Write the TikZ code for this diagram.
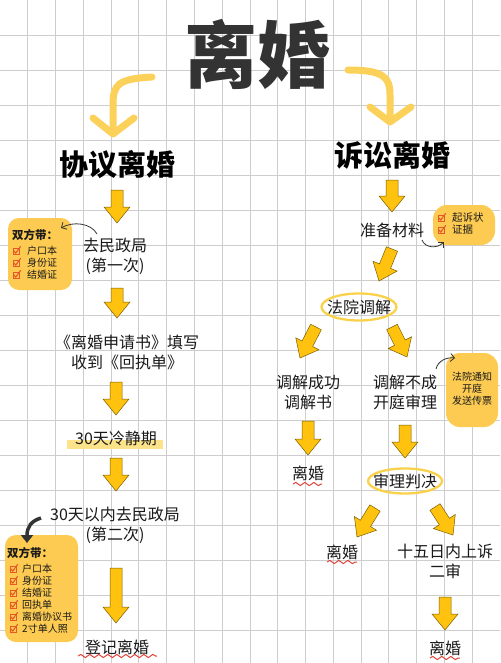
\documentclass[tikz,border=0pt]{standalone}
\usepackage{fontspec}
\setmainfont{Noto Sans CJK SC}
\newfontfamily\blackfont{Noto Sans CJK SC Black}
\usetikzlibrary{calc,arrows.meta,decorations.pathmorphing}
\definecolor{gridc}{HTML}{CDCDCD}
\definecolor{ttlc}{HTML}{333333}
\definecolor{cyc}{HTML}{FCD15A}
\definecolor{afill}{HTML}{FFC20E}
\definecolor{aline}{HTML}{7A5E00}
\definecolor{boxc}{HTML}{FDCB52}
\definecolor{chkc}{HTML}{E8572A}
\definecolor{wavc}{HTML}{E0433A}
\definecolor{hlc}{HTML}{FCE38A}
\definecolor{ovc}{HTML}{F9D24A}
\definecolor{txtc}{HTML}{1A1A1A}
\newcommand{\barrow}[2]{%
  \coordinate (#1h) at ($(#2)!16pt!(#1)$);
  \draw[blockarrow] ($(#1)!6pt!90:(#2)$) -- ($(#1h)!6pt!90:(#2)$) -- ($(#1h)!13pt!90:(#2)$) -- (#2) -- ($(#1h)!13pt!-90:(#2)$) -- ($(#1h)!6pt!-90:(#2)$) -- ($(#1)!6pt!-90:(#2)$) -- cycle;}
\tikzset{
  gridline/.style={draw=gridc, line width=0.9pt},
  blockarrow/.style={fill=afill, draw=aline, line width=0.5pt, line join=miter},
  body/.style={font=\fontsize{16}{20}\selectfont, text=txtc, align=center, inner sep=0pt},
  headtxt/.style={font=\fontsize{29}{29}\selectfont\bfseries, text=black, inner sep=0pt},
  ttltxt/.style={font=\fontsize{73}{73}\selectfont\blackfont, text=ttlc, inner sep=0pt},
  ybox/.style={fill=boxc, draw=none, rounded corners=11pt, inner sep=0pt},
  boxtxt/.style={font=\fontsize{10}{12}\selectfont, text=txtc, inner sep=0pt, anchor=west},
  boxhead/.style={font=\fontsize{11.5}{12}\selectfont\bfseries, text=txtc, inner sep=0pt, anchor=west},
  curvy/.style={draw=cyc, line width=7pt, line cap=round, line join=round},
  thinarrow/.style={draw=ttlc, line width=0.8pt, -{Straight Barb[length=4pt,width=8pt]}},
  wavy/.style={draw=wavc, line width=1pt, decorate, decoration={snake, amplitude=1.6pt, segment length=9pt}},
  oval/.style={draw=ovc, line width=2.3pt},
  chk/.pic={\draw[chkc, line width=0.6pt] (-3.2,-3.2) rectangle (3.2,3.2);
            \draw[chkc, line width=1.1pt, line cap=round, line join=round] (-2,0) -- (-0.3,2.2) -- (4.5,-4.5);}
}
\begin{document}
\begin{tikzpicture}[x=1pt,y=-1pt]
\useasboundingbox (0,0) rectangle (500,663);
\fill[white] (0,0) rectangle (500,663);
% grid
\foreach \i in {1,...,17} \draw[gridline] (27.78*\i,0) -- (27.78*\i,663);
\foreach \j in {1,...,18} \draw[gridline] (0,35*\j) -- (500,35*\j);

% title
\node[ttltxt] (title) at (257,54) {离婚};
% curvy arrows
\draw[curvy] (152,77) .. controls (118,79) and (113,84) .. (113,105) -- (113,132);
\draw[curvy] (93,118) -- (113,134) -- (134,118);
\draw[curvy] (348,70) .. controls (385,70) and (390,78) .. (390,95) -- (390,120);
\draw[curvy] (370,107) -- (390,122) -- (411,107);

\node[headtxt] (xy) at (117,165) {协议离婚};
\node[headtxt] (ss) at (392,155) {诉讼离婚};

% left column
\node[body] (l1) at (115,256) {去民政局\\(第一次)};
\node[body] (l2) at (127,352) {《离婚申请书》填写\\收到《回执单》};
\fill[hlc] (67,440) rectangle (163,449);
\node[body] (l3) at (116,438) {30天冷静期};
\node[body] (l4) at (115,525) {30天以内去民政局\\(第二次)};
\node[body] (l5) at (117,647) {登记离婚};
\coordinate (w1a) at (78,656); \coordinate (w1b) at (157,656);
\draw[wavy] (w1a) -- (w1b);

\coordinate (a1s) at (117,190); \coordinate (a1e) at (117,223);
\coordinate (a2s) at (117,288); \coordinate (a2e) at (117,318);
\coordinate (a3s) at (116,382); \coordinate (a3e) at (116,415);
\coordinate (a4s) at (116,458); \coordinate (a4e) at (116,491);
\coordinate (a5s) at (116,568); \coordinate (a5e) at (116,623);
\barrow{a1s}{a1e}
\barrow{a2s}{a2e}
\barrow{a3s}{a3e}
\barrow{a4s}{a4e}
\barrow{a5s}{a5e}

% box 1
\node[ybox, minimum width=64pt, minimum height=72pt] (b1) at (40,254) {};
\node[boxhead] (b1h) at (12,235) {双方带：};
\pic at (16,251) {chk}; \node[boxtxt] (b1i1) at (27,251) {户口本};
\pic at (16,263) {chk}; \node[boxtxt] (b1i2) at (27,263) {身份证};
\pic at (16,275) {chk}; \node[boxtxt] (b1i3) at (27,275) {结婚证};
\coordinate (c1s) at (97,234); \coordinate (c1e) at (61,228);
\draw[thinarrow] (c1s) .. controls (91,223) and (73,221) .. (c1e);

% box 2
\node[ybox, minimum width=73pt, minimum height=107pt] (b2) at (41.5,588.5) {};
\node[boxhead] (b2h) at (7,553) {双方带：};
\pic at (13,569) {chk}; \node[boxtxt] (b2i1) at (22,569) {户口本};
\pic at (13,581) {chk}; \node[boxtxt] (b2i2) at (22,581) {身份证};
\pic at (13,593) {chk}; \node[boxtxt] (b2i3) at (22,593) {结婚证};
\pic at (13,605) {chk}; \node[boxtxt] (b2i4) at (22,605) {回执单};
\pic at (13,617) {chk}; \node[boxtxt] (b2i5) at (22,617) {离婚协议书};
\pic at (13,629) {chk}; \node[boxtxt] (b2i6) at (22,629) {2寸单人照};
\coordinate (c2s) at (41,518); \coordinate (c2e) at (27,543);
\draw[draw=ttlc, line width=3.5pt, -{Triangle[length=8pt,width=12pt]}] (c2s) .. controls (31,521) and (27,527) .. (c2e);

% right column
\node[body] (r1) at (392,230) {准备材料};
\node[body] (r2) at (359,307) {法院调解};
\draw[oval] (r2.center) ellipse [x radius=37.5, y radius=13.5];
\node[body] (r3) at (308,392) {调解成功\\调解书};
\node[body] (r4) at (405,392) {调解不成\\开庭审理};
\node[body] (r5) at (308,473) {离婚};
\node[body] (r6) at (405,481) {审理判决};
\draw[oval] (r6.center) ellipse [x radius=37, y radius=12.5];
\node[body] (r7) at (342,552) {离婚};
\node[body] (r8) at (445,561) {十五日内上诉\\二审};
\node[body] (r9) at (445,648) {离婚};
\coordinate (w2a) at (293,484); \coordinate (w2b) at (322,484);
\coordinate (w3a) at (327,562); \coordinate (w3b) at (357,562);
\coordinate (w4a) at (430,658); \coordinate (w4b) at (460,658);
\draw[wavy] (w2a) -- (w2b);
\draw[wavy] (w3a) -- (w3b);
\draw[wavy] (w4a) -- (w4b);

\coordinate (b1s) at (392,180); \coordinate (b1e) at (392,212);
\coordinate (b2s) at (392,249); \coordinate (b2e) at (379,281);
\coordinate (b3s) at (316,327); \coordinate (b3e) at (300,358);
\coordinate (b4s) at (392,327); \coordinate (b4e) at (407,357);
\coordinate (b5s) at (308,421); \coordinate (b5e) at (308,455);
\coordinate (b6s) at (405,425); \coordinate (b6e) at (405,458);
\coordinate (b7s) at (375,508); \coordinate (b7e) at (357,537);
\coordinate (b8s) at (435,507); \coordinate (b8e) at (453,535);
\coordinate (b9s) at (445,597); \coordinate (b9e) at (445,630);
\barrow{b1s}{b1e}
\barrow{b2s}{b2e}
\barrow{b3s}{b3e}
\barrow{b4s}{b4e}
\barrow{b5s}{b5e}
\barrow{b6s}{b6e}
\barrow{b7s}{b7e}
\barrow{b8s}{b8e}
\barrow{b9s}{b9e}

% box 3
\node[ybox, rounded corners=14pt, minimum width=62pt, minimum height=40pt] (b3) at (464,225) {};
\pic at (441,218) {chk}; \node[boxtxt, font=\fontsize{10.5}{12}\selectfont] (b3i1) at (452,218) {起诉状};
\pic at (441,230) {chk}; \node[boxtxt, font=\fontsize{10.5}{12}\selectfont] (b3i2) at (452,230) {证据};
\coordinate (c3s) at (422,240); \coordinate (c3e) at (444,242);
\draw[thinarrow] (c3s) .. controls (425,248) and (437,249) .. (c3e);

% box 4
\node[ybox, rounded corners=14pt, minimum width=52pt, minimum height=74pt] (b4) at (472,390) {};
\node[font=\fontsize{10}{12}\selectfont, text=txtc, align=center, inner sep=0pt] (b4t) at (472,389) {法院通知\\开庭\\发送传票};
\coordinate (c4s) at (436,369); \coordinate (c4e) at (455,358);
\draw[thinarrow] (c4s) .. controls (438,361) and (446,357) .. (c4e);
\end{tikzpicture}
\end{document}
